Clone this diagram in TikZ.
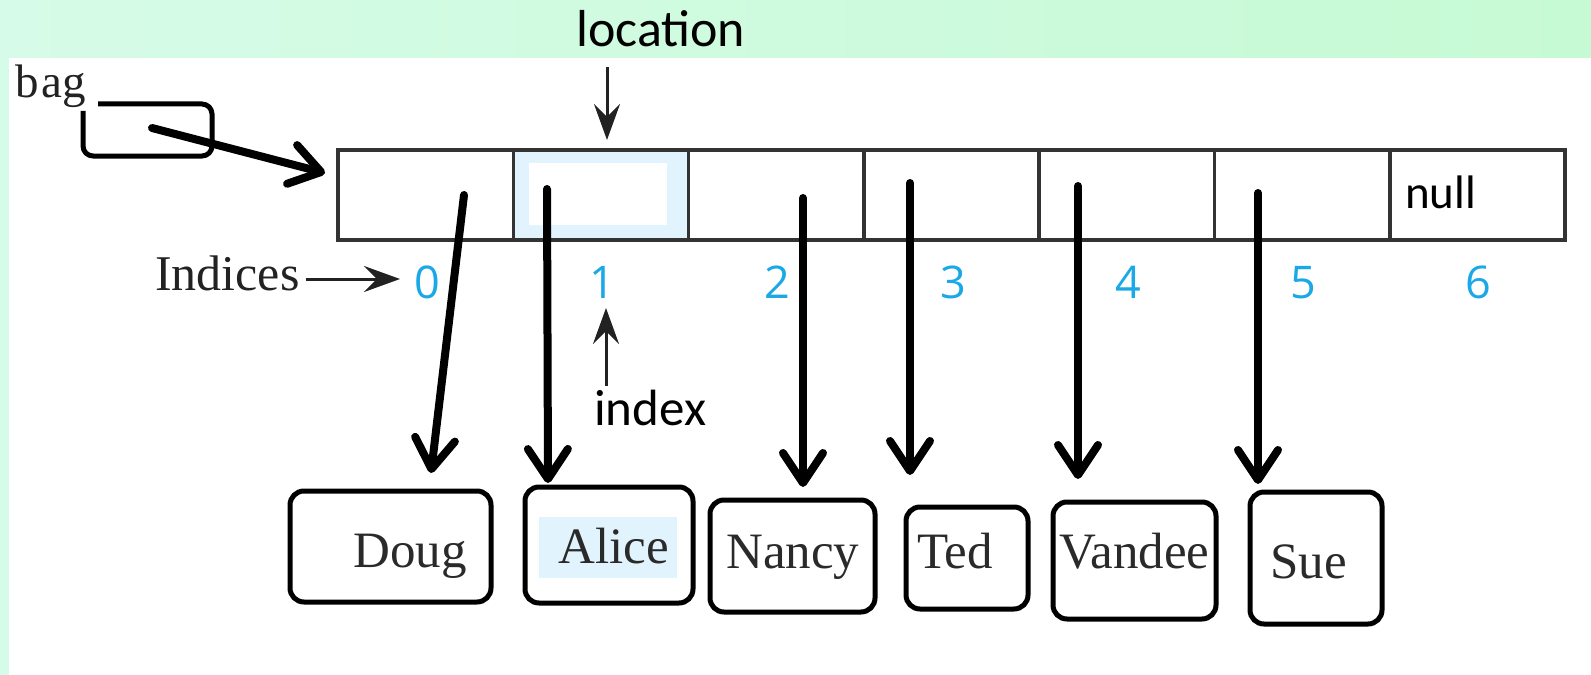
\documentclass[tikz,border=0pt]{standalone}
\usepackage{fontspec}
\setmainfont{Liberation Serif}
\newfontfamily\calfont{Carlito}
\newfontfamily\digfont{Open Sans}
\usetikzlibrary{arrows.meta}

\definecolor{bandL}{HTML}{D6FBE8}
\definecolor{bandR}{HTML}{C6FAD4}
\definecolor{stripc}{HTML}{D4FCE8}
\definecolor{idxblue}{HTML}{1AA8E6}
\definecolor{hlblue}{HTML}{E1F3FC}
\definecolor{gridc}{HTML}{333333}
\definecolor{inkc}{HTML}{222222}
\definecolor{namec}{HTML}{2A2A2A}

\tikzset{
  cell/.style={draw=gridc, line width=3.5bp, minimum width=175.3bp, minimum height=90bp, inner sep=0pt},
  namebox/.style={draw=black, line width=5bp, rounded corners=14bp, inner sep=0pt},
  nametxt/.style={anchor=base west, inner sep=0pt, text=namec, font=\fontsize{51bp}{57bp}\selectfont},
  calib/.style={anchor=base west, inner sep=0pt, text=black},
  digit/.style={anchor=base, inner sep=0pt, text=idxblue, font=\digfont\fontsize{45bp}{50bp}\selectfont},
  ptr/.style={line width=8bp, line cap=round, -{Straight Barb[length=30bp,width=40bp,round]}},
  thinptr/.style={line width=3bp, draw=inkc, -{Stealth[length=36bp,width=26bp,inset=13bp]}},
}

\begin{document}
\begin{tikzpicture}[x=1bp, y=-1bp]
\useasboundingbox (0,0) rectangle (1591,675);

% backdrop: title band and left strip
\shade[left color=bandL, right color=bandR] (0,0) rectangle (1591,58);
\fill[stripc] (0,58) rectangle (9,675);

% highlighted cell 1
\fill[hlblue] (513,150) rectangle (689,240);
\fill[white] (529,163) rectangle (667,225);

% the array cells
\foreach \i in {0,...,6} {
  \node[cell] (c\i) at ({338+175.3*\i+87.65},195) {};
  \node[digit] (d\i) at ({338+175.3*\i+89},298) {\i};
}
\node[calib, font=\calfont\fontsize{47bp}{53bp}\selectfont] (null) at (1405,208) {null};

% labels
\node[calib, font=\calfont\fontsize{52bp}{58bp}\selectfont] (loc) at (576,47) {location};
\node[calib, font=\calfont\fontsize{51bp}{57bp}\selectfont] (idx) at (594,425) {index};
\node[anchor=base west, inner sep=0pt, text=inkc, font=\fontsize{50bp}{56bp}\selectfont] (indices) at (155,290) {Indices};
\node[anchor=base west, inner sep=0pt, text=inkc, font=\fontsize{47bp}{53bp}\selectfont] (bag) at (15,98) {b\kern3bp ag};

% thin arrows
\coordinate (locA) at (607,67);
\coordinate (locB) at (607,140);
\draw[thinptr] (locA) -- (locB);
\coordinate (idxA) at (606,386);
\coordinate (idxB) at (606,308);
\draw[thinptr] (idxA) -- (idxB);
\coordinate (indB) at (400,279);
\draw[thinptr] ([xshift=6bp]indices.east |- indB) -- (indB);

% bag reference box and its pointer
\coordinate (bagS) at (152,128);
\coordinate (bagT) at (325,173);
\draw[line width=5bp, rounded corners=10bp] (98,104) -- (212,104) -- (212,156) -- (83,156) -- (83,111);
\draw[ptr] (bagS) -- (bagT);

% name boxes
\fill[hlblue] (539,517) rectangle (677,578);
\node[namebox, minimum width=201bp, minimum height=111bp] (doug) at (390.5,546.5) {};
\node[namebox, minimum width=168bp, minimum height=116bp] (alice) at (609,545) {};
\node[namebox, minimum width=165bp, minimum height=112bp] (nancy) at (792.5,556) {};
\node[namebox, minimum width=122bp, minimum height=102bp] (ted) at (967,558) {};
\node[namebox, minimum width=163bp, minimum height=117bp] (vandee) at (1134.5,560.5) {};
\node[namebox, minimum width=132bp, minimum height=132bp] (sue) at (1316,558) {};

\node[nametxt] (tdoug) at (353,567) {Doug};
\node[nametxt] (talice) at (558,563) {Alice};
\node[nametxt] (tnancy) at (726,568) {Nancy};
\node[nametxt] (tted) at (917,568) {Ted};
\node[nametxt] (tvandee) at (1059,568) {Vandee};
\node[nametxt] (tsue) at (1270,578) {Sue};

% references from the cells to the names
\coordinate (s0) at (464,195); \coordinate (t0) at (431,473);
\coordinate (s1) at (547,189); \coordinate (t1) at (548,483);
\coordinate (s2) at (803,198); \coordinate (t2) at (803,487);
\coordinate (s3) at (910,183); \coordinate (t3) at (910,475);
\coordinate (s4) at (1078,186); \coordinate (t4) at (1078,479);
\coordinate (s5) at (1258,193); \coordinate (t5) at (1258,484);
\foreach \k in {0,...,5} { \draw[ptr] (s\k) -- (t\k); }
\end{tikzpicture}
\end{document}
